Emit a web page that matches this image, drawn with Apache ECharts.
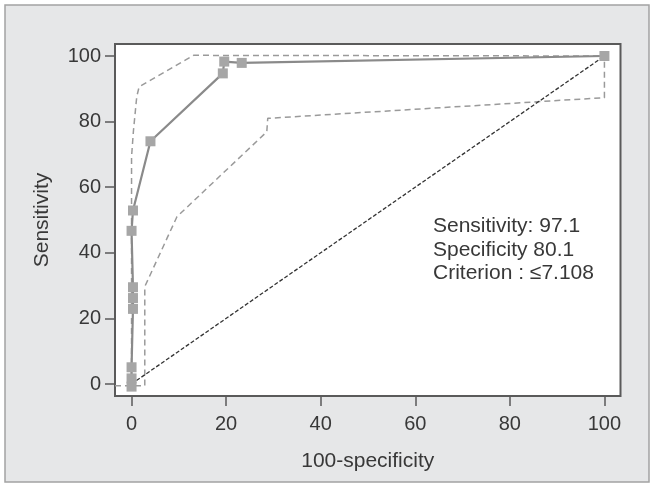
<!DOCTYPE html>
<html>
<head>
<meta charset="utf-8">
<script src="https://cdn.jsdelivr.net/npm/echarts@6/dist/echarts.min.js"></script>
<style>
html,body{margin:0;padding:0;background:#fff;}
#c{width:654px;height:487px;}
</style>
</head>
<body>
<div id="c"></div>
<script>
// ROC curve points [100-specificity, sensitivity]
const rocX = [0, 0, 0, 0.3, 0.3, 0.3, 0, 0.3, 4.0, 19.3, 19.6, 23.3, 100];
const rocY = [-0.8, 1.7, 5.1, 22.9, 26.2, 29.5, 46.7, 52.9, 74.0, 94.7, 98.3, 97.9, 100];
// Upper confidence bound
const upperX = [0, 0, 0.4, 1.1, 1.6, 13.1, 100];
const upperY = [0, 69.3, 77.2, 87.6, 90.6, 100.2, 100];
// Lower confidence bound
const lowerX = [-3.5, 2.8, 2.8, 9.6, 28.6, 28.8, 100, 100];
const lowerY = [-0.5, -0.5, 29.7, 51.0, 76.9, 81.0, 87.3, 100];
// Reference diagonal
const diagX = [0, 100];
const diagY = [0, 100];
const xTicks = [0, 20, 40, 60, 80, 100];
const yTicks = [0, 20, 40, 60, 80, 100];
const noteLines = ['Sensitivity: 97.1', 'Specificity 80.1', 'Criterion : \u22647.108'];

const zip = (a, b) => a.map((v, i) => [v, b[i]]);
const FONT = 'Liberation Sans, Arial, sans-serif';

const chart = echarts.init(document.getElementById('c'), null, {renderer: 'canvas'});
chart.setOption({
  backgroundColor: '#ffffff',
  animation: false,
  graphic: [
    {type: 'rect', z: -10, shape: {x: 5, y: 5, width: 644, height: 477},
     style: {fill: '#e6e7e8', stroke: '#a3a3a3', lineWidth: 1.5}},
    {type: 'text', x: 433, y: 215, z: 10,
     style: {text: noteLines.join('\n'), font: '21px ' + FONT, fill: '#383838', lineHeight: 23.2}}
  ],
  grid: {left: 115, top: 44, right: 33.5, bottom: 91, show: true,
         backgroundColor: '#ffffff', borderColor: '#5a5a5a', borderWidth: 2},
  xAxis: {
    type: 'value', min: -3.5, max: 103.4,
    name: '100-specificity', nameLocation: 'middle', nameGap: 55,
    nameTextStyle: {fontFamily: FONT, fontSize: 21, color: '#383838'},
    axisLine: {show: false, onZero: false},
    splitLine: {show: false},
    axisTick: {show: true, length: 10, customValues: xTicks, lineStyle: {color: '#5a5a5a', width: 1.5}},
    axisLabel: {customValues: xTicks, fontFamily: FONT, fontSize: 20, color: '#383838', margin: 18}
  },
  yAxis: {
    type: 'value', min: -3.66, max: 103.66,
    name: 'Sensitivity', nameLocation: 'middle', nameGap: 62,
    nameTextStyle: {fontFamily: FONT, fontSize: 21, color: '#383838'},
    axisLine: {show: false, onZero: false},
    splitLine: {show: false},
    axisTick: {show: true, length: 10, customValues: yTicks, lineStyle: {color: '#5a5a5a', width: 1.5}},
    axisLabel: {customValues: yTicks, fontFamily: FONT, fontSize: 20, color: '#383838', margin: 14}
  },
  series: [
    {type: 'line', data: zip(upperX, upperY), showSymbol: false, symbol: 'none',
     lineStyle: {color: '#9a9a9a', width: 1.5, type: [6, 4]}, z: 2},
    {type: 'line', data: zip(lowerX, lowerY), showSymbol: false, symbol: 'none',
     lineStyle: {color: '#9a9a9a', width: 1.5, type: [6, 4]}, z: 2},
    {type: 'line', data: zip(diagX, diagY), showSymbol: false, symbol: 'none',
     lineStyle: {color: '#333333', width: 1.3, type: [4, 2]}, z: 3},
    {type: 'line', data: zip(rocX, rocY), symbol: 'rect', symbolSize: 10, showSymbol: true,
     lineStyle: {color: '#8a8a8a', width: 2.2},
     itemStyle: {color: '#a6a6a6', borderWidth: 0}, z: 4}
  ]
});
</script>
</body>
</html>
